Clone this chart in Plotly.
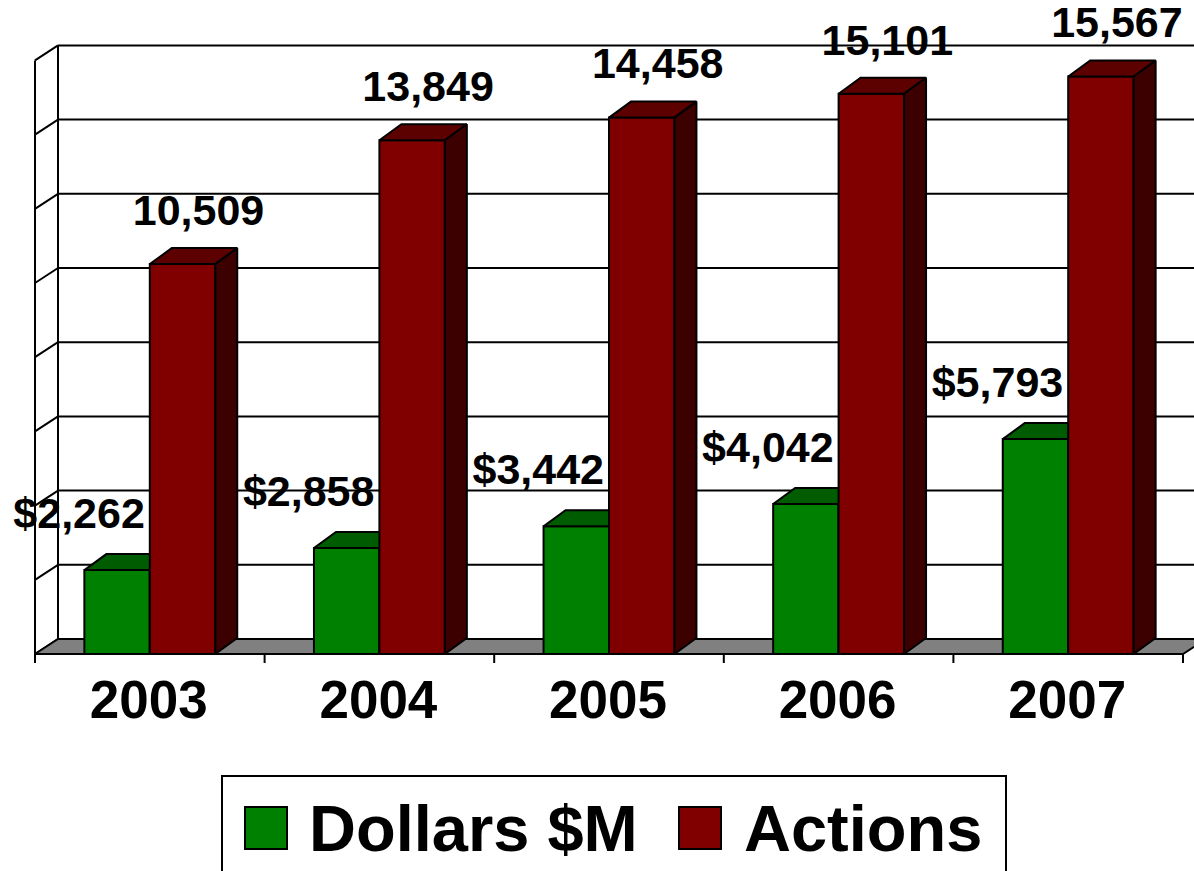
import plotly.graph_objects as go

# ---------------- data ----------------
years = ["2003", "2004", "2005", "2006", "2007"]
dollars = [2262, 2858, 3442, 4042, 5793]
actions = [10509, 13849, 14458, 15101, 15567]
dollar_labels = ["$2,262", "$2,858", "$3,442", "$4,042", "$5,793"]
action_labels = ["10,509", "13,849", "14,458", "15,101", "15,567"]
grid_values = [0, 2000, 4000, 6000, 8000, 10000, 12000, 14000, 16000]
series_names = ["Dollars $M", "Actions"]

# ---------------- styling / geometry ----------------
W, H = 1194, 871
SX = 229.6          # px per category unit
K = 0.0371          # px per value unit
X0_PX = 35          # px of category origin
Y0_PX = 654         # px of value origin (front floor edge)
U0 = -X0_PX / SX
U1 = U0 + W / SX
V_TOP = Y0_PX / K
V_BOT = -(H - Y0_PX) / K

def du(px):
    return px / SX

def dv(px):
    return px / K

WALL_DX, WALL_DY = du(23), dv(15)
BAR_DX, BAR_DY = du(22), dv(16)
BAR_W = 0.285
TICK = dv(9)
N = len(years)
VMAX = grid_values[-1]

GREEN, GREEN_TOP, GREEN_SIDE = "#008000", "#005c00", "#003c00"
RED, RED_TOP, RED_SIDE = "#800000", "#5c0000", "#3c0000"
FONT = "Liberation Sans, Arial, sans-serif"

fig = go.Figure()

def add_lines(xs, ys, width=2, color="black"):
    fig.add_trace(go.Scatter(x=xs, y=ys, mode="lines", line=dict(color=color, width=width),
                             hoverinfo="skip", showlegend=False))

def add_polys(polys, fill, width=2):
    xs, ys = [], []
    for p in polys:
        for (a, b) in p + [p[0]]:
            xs.append(a)
            ys.append(b)
        xs.append(None)
        ys.append(None)
    fig.add_trace(go.Scatter(x=xs, y=ys, mode="lines", fill="toself", fillcolor=fill,
                             line=dict(color="black", width=width),
                             hoverinfo="skip", showlegend=False))

# back-wall gridlines and side-wall gridlines
gx, gy = [], []
for g in grid_values:
    gx += [WALL_DX, N + WALL_DX, None]
    gy += [g + WALL_DY, g + WALL_DY, None]
    gx += [0, WALL_DX, None]
    gy += [g, g + WALL_DY, None]
# side wall edges
gx += [0, 0, None, WALL_DX, WALL_DX, None]
gy += [-TICK, VMAX, None, WALL_DY, VMAX + WALL_DY, None]
# tick marks at category boundaries
for i in range(1, N + 1):
    gx += [i, i, None]
    gy += [0, -TICK, None]
add_lines(gx, gy)

# floor
add_polys([[(0, 0), (N, 0), (N + WALL_DX, WALL_DY), (WALL_DX, WALL_DY)]], "#808080")

def bar_faces(x0, x1, v):
    front = [(x0, 0), (x1, 0), (x1, v), (x0, v)]
    top = [(x0, v), (x1, v), (x1 + BAR_DX, v + BAR_DY), (x0 + BAR_DX, v + BAR_DY)]
    side = [(x1, 0), (x1 + BAR_DX, BAR_DY), (x1 + BAR_DX, v + BAR_DY), (x1, v)]
    return front, top, side

for s, (vals, cols) in enumerate([(dollars, (GREEN, GREEN_TOP, GREEN_SIDE)),
                                  (actions, (RED, RED_TOP, RED_SIDE))]):
    fronts, tops, sides = [], [], []
    for i, v in enumerate(vals):
        x0 = i + 0.5 - BAR_W if s == 0 else i + 0.5
        f, t, sd = bar_faces(x0, x0 + BAR_W, v)
        fronts.append(f)
        tops.append(t)
        sides.append(sd)
    add_polys(fronts, cols[0])
    add_polys(tops, cols[1])
    add_polys(sides, cols[2])

# value labels
LABEL_UP = dv(50)
fig.add_trace(go.Scatter(
    x=[i + 0.5 - BAR_W / 2 + du(-38) for i in range(N)],
    y=[v + LABEL_UP + dv(3) for v in dollars],
    mode="text", text=dollar_labels, textposition="middle center",
    textfont=dict(family=FONT, size=43, color="black", weight="bold"),
    hoverinfo="skip", showlegend=False, cliponaxis=False))
fig.add_trace(go.Scatter(
    x=[i + 0.5 + BAR_W / 2 + du(16) for i in range(N)],
    y=[v + LABEL_UP for v in actions],
    mode="text", text=action_labels, textposition="middle center",
    textfont=dict(family=FONT, size=43, color="black", weight="bold"),
    hoverinfo="skip", showlegend=False, cliponaxis=False))

# category labels
fig.add_trace(go.Scatter(
    x=[i + 0.5 + du(-1) for i in range(N)],
    y=[dv(-51)] * N,
    mode="text", text=years, textposition="middle center",
    textfont=dict(family=FONT, size=53, color="black", weight="bold"),
    hoverinfo="skip", showlegend=False, cliponaxis=False))

# custom legend
def px(x):
    return x / W

def py(y):
    return 1 - y / H

fig.add_shape(type="rect", xref="paper", yref="paper",
              x0=px(222), x1=px(1006), y0=py(776), y1=py(880),
              line=dict(color="black", width=2), fillcolor="rgba(0,0,0,0)")
fig.add_trace(go.Scatter(
    x=[U0 + du(266), U0 + du(700)], y=[dv(Y0_PX - 828)] * 2,
    mode="markers",
    marker=dict(symbol="square", size=42, color=[GREEN, RED], line=dict(color="black", width=2)),
    hoverinfo="skip", showlegend=False, cliponaxis=False))
for name, xl in zip(series_names, [307, 742]):
    fig.add_annotation(x=px(xl), y=py(828), xref="paper", yref="paper",
                       text=name, showarrow=False, xanchor="left", yanchor="middle",
                       font=dict(family=FONT, size=65, color="black", weight="bold"))

fig.update_layout(
    width=W, height=H,
    margin=dict(l=0, r=0, t=0, b=0),
    paper_bgcolor="white", plot_bgcolor="white",
    showlegend=False,
    xaxis=dict(range=[U0, U1], visible=False, fixedrange=True),
    yaxis=dict(range=[V_BOT, V_TOP], visible=False, fixedrange=True),
)

fig.write_html("out.html", config={"displayModeBar": False},
               post_script="document.body.style.margin='0';")
